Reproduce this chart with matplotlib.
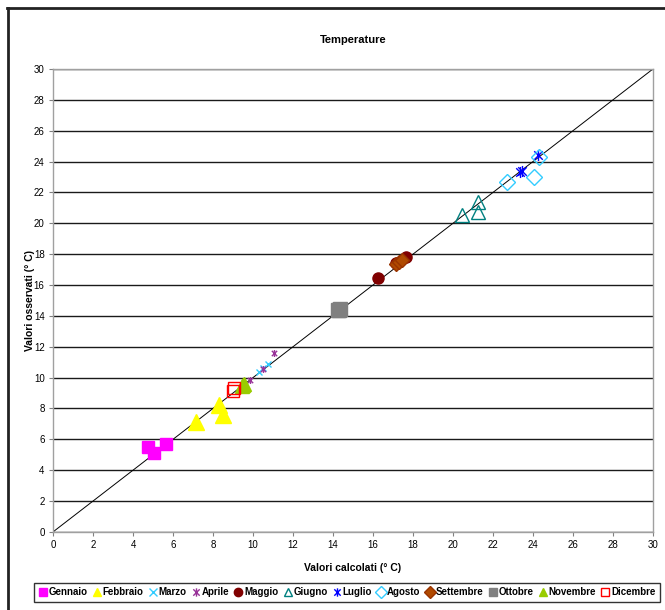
import numpy as np
import matplotlib
matplotlib.use('Agg')
import matplotlib.pyplot as plt
from matplotlib.path import Path
from matplotlib.lines import Line2D

plt.rcParams['font.family'] = ['Liberation Sans', 'DejaVu Sans']

# computed vs observed monthly temperatures (deg C)
gennaio_x = [4.75, 5.05, 5.65]
gennaio_y = [5.5, 5.12, 5.7]
febbraio_x = [7.15, 8.3, 8.5]
febbraio_y = [7.1, 8.2, 7.6]
marzo_x = [10.3, 10.5, 10.75]
marzo_y = [10.37, 10.6, 10.9]
aprile_x = [9.85, 10.5, 11.05]
aprile_y = [9.85, 10.55, 11.6]
maggio_x = [16.25, 17.15, 17.65]
maggio_y = [16.46, 17.4, 17.8]
giugno_x = [20.45, 21.25, 21.25]
giugno_y = [20.55, 21.4, 20.75]
luglio_x = [23.35, 23.45, 24.25]
luglio_y = [23.3, 23.4, 24.4]
agosto_x = [22.7, 24.05, 24.3]
agosto_y = [22.7, 23.0, 24.3]
settembre_x = [17.15, 17.3, 17.45]
settembre_y = [17.35, 17.5, 17.6]
ottobre_x = [14.25, 14.3, 14.35]
ottobre_y = [14.35, 14.4, 14.45]
novembre_x = [9.45, 9.5, 9.55]
novembre_y = [9.45, 9.5, 9.6]
dicembre_x = [9.0, 9.05]
dicembre_y = [9.1, 9.3]

# excel style star: an x with a vertical bar through it
star = Path([(-1, -1), (1, 1), (-1, 1), (1, -1), (0, -1.3), (0, 1.3)],
            [Path.MOVETO, Path.LINETO, Path.MOVETO, Path.LINETO, Path.MOVETO, Path.LINETO])

series = [
    ('Gennaio', gennaio_x, gennaio_y, dict(marker='s', ms=9, mfc='#FF00FF', mec='#FF00FF')),
    ('Febbraio', febbraio_x, febbraio_y, dict(marker='^', ms=11, mfc='#FFFF00', mec='#FFFF00')),
    ('Marzo', marzo_x, marzo_y, dict(marker='x', ms=5, mec='#33CCFF', mew=1)),
    ('Aprile', aprile_x, aprile_y, dict(marker=star, ms=5, mec='#993399', mew=1)),
    ('Maggio', maggio_x, maggio_y, dict(marker='o', ms=8, mfc='#800000', mec='#800000')),
    ('Giugno', giugno_x, giugno_y, dict(marker='^', ms=10, mfc='none', mec='#008080', mew=1)),
    ('Luglio', luglio_x, luglio_y, dict(marker=star, ms=8, mec='#0000FF', mew=1)),
    ('Agosto', agosto_x, agosto_y, dict(marker='D', ms=8, mfc='none', mec='#33CCFF', mew=1)),
    ('Settembre', settembre_x, settembre_y, dict(marker='D', ms=7.5, mfc='#B04A00', mec='#993300')),
    ('Ottobre', ottobre_x, ottobre_y, dict(marker='s', ms=9.5, mfc='#808080', mec='#808080')),
    ('Novembre', novembre_x, novembre_y, dict(marker='^', ms=10, mfc='#99CC00', mec='#99CC00')),
    ('Dicembre', dicembre_x, dicembre_y, dict(marker='s', ms=8, mfc='none', mec='#FF0000', mew=1)),
]

fig = plt.figure(figsize=(6.65, 6.1), dpi=100)
ax = fig.add_axes([0.0797, 0.128, 0.9023, 0.759])

for y in range(0, 31, 2):
    ax.axhline(y, color='#1a1a1a', lw=1, zorder=1)
ax.plot([0, 30], [0, 30], color='black', lw=0.7, zorder=2)

handles = []
for name, xs, ys, st in series:
    ax.plot(xs, ys, ls='none', zorder=3, **st)
    hs = dict(st)
    hs['ms'] = 6
    handles.append(Line2D([], [], ls='none', label=name, **hs))

ax.set_xlim(0, 30)
ax.set_ylim(0, 30)
ax.set_xticks(range(0, 31, 2))
ax.set_yticks(range(0, 31, 2))
ax.tick_params(labelsize=7, length=3, color='#808080', pad=3)
for s in ax.spines.values():
    s.set_color('#a0a0a0')
    s.set_linewidth(1)

ax.set_title('Temperature', fontsize=8, fontweight='bold', pad=19)
ax.set_xlabel('Valori calcolati (° C)', fontsize=7.5, fontweight='bold', labelpad=9)
ax.set_ylabel('Valori osservati (° C)', fontsize=7.5, fontweight='bold', labelpad=-1)

leg = fig.legend(handles=handles, loc='center', bbox_to_anchor=(0.522, 0.0287), ncol=12,
                 prop={'weight': 'bold', 'size': 7}, frameon=True, fancybox=False,
                 handlelength=0.8, handletextpad=0.2, columnspacing=0.55, borderpad=0.5,
                 edgecolor='black')
leg.get_frame().set_linewidth(1)

# chart area frame, left and top edges
fig.add_artist(Line2D([0.012, 0.012], [0, 0.987], color='#222222', lw=2, transform=fig.transFigure))
fig.add_artist(Line2D([0.011, 1], [0.987, 0.987], color='#222222', lw=2, transform=fig.transFigure))

fig.savefig('out.png', dpi=100)
